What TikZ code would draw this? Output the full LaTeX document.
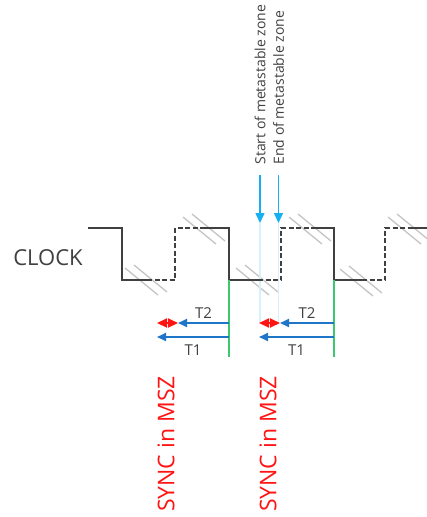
\documentclass[tikz,border=0pt]{standalone}
\usepackage{fontspec}
\setmainfont{Open Sans}
\usepackage{tikz}
\usetikzlibrary{arrows.meta,positioning}
\definecolor{clockgray}{RGB}{64,64,64}
\definecolor{textgray}{RGB}{64,64,64}
\definecolor{hatchgray}{RGB}{196,196,196}
\definecolor{tblue}{RGB}{31,118,200}
\definecolor{zonecyan}{RGB}{20,176,240}
\definecolor{zonepale}{RGB}{212,241,252}
\definecolor{syncgreen}{RGB}{60,200,110}
\definecolor{syncred}{RGB}{255,20,20}

\begin{document}
\begin{tikzpicture}[x=1pt,y=-1pt,
	clockline/.style={draw=clockgray,line width=1.8pt,line join=miter},
	clockjit/.style={clockline,dash pattern=on 5pt off 2.5pt},
	hatchline/.style={draw=hatchgray,line width=1.3pt},
	zonelbl/.style={rotate=90,anchor=west,text=textgray,font=\fontsize{14}{16}\selectfont},
	zonearrow/.style={draw=zonecyan,line width=1.5pt,-{Triangle[length=10pt,width=9pt]},shorten <=7pt},
	zoneline/.style={draw=zonepale,line width=1.2pt},
	syncline/.style={draw=syncgreen,line width=2pt},
	tarrow/.style={draw=tblue,line width=2pt,-{Triangle[length=9pt,width=8pt]}},
	jitarrow/.style={draw=syncred,line width=2pt,{Triangle[length=10pt,width=9pt]}-{Triangle[length=10pt,width=9pt]}},
	tlbl/.style={text=textgray,font=\fontsize{15}{17}\selectfont},
	synclbl/.style={rotate=90,text=syncred,font=\fontsize{23}{26}\selectfont}]
		\useasboundingbox (0,0) rectangle (427,517);

		\node[text=textgray,font=\fontsize{22}{26}\selectfont] (clock) at (48,258) {CLOCK};
		\node[zonelbl] (zstart) at (260,168) {Start of metastable zone};
		\node[zonelbl] (zend) at (278.5,168) {End of metastable zone};
		\node[synclbl] (sync1) at (166,444) {SYNC in MSZ};
		\node[synclbl] (sync2) at (268,444) {SYNC in MSZ};

		\coordinate (zs) at (260,223);
		\coordinate (zsb) at (260,323);
		\coordinate (ze) at (278.5,223);
		\coordinate (zeb) at (278.5,323);

		\coordinate (g1a) at (229,280);
		\coordinate (g1b) at (229,357);
		\coordinate (g1t2) at (229,323);
		\coordinate (g1t1) at (229,337);
		\coordinate (r1a) at (157,323);
		\coordinate (r1b) at (178,323);
		\coordinate (t1a) at (157,337);

		\coordinate (g2a) at (334,280);
		\coordinate (g2b) at (334,357);
		\coordinate (g2t2) at (334,323);
		\coordinate (g2t1) at (334,337);
		\coordinate (r2a) at (259,323);
		\coordinate (r2b) at (280,323);
		\coordinate (t2a) at (259,337);

		\foreach \x/\y in {147/280,205/229,258/280,311/229,362/281,410/229} {
			\draw[hatchline] (\x-22,\y-12) -- ++(33,27);
			\draw[hatchline] (\x-13,\y-15) -- ++(33,27);
		}

		\draw[zoneline] (zs) -- (zsb);
		\draw[zoneline] (ze) -- (zeb);

		\draw[clockline] (88,228) -- (122,228) -- (122,280) -- (147,280);
		\draw[clockjit] (147,280) -- (175,280) -- (175,228) -- (203,228);
		\draw[clockline] (203,228) -- (229,228) -- (229,280) -- (258,280);
		\draw[clockjit] (258,280) -- (281,280) -- (281,228) -- (311,228);
		\draw[clockline] (311,228) -- (334,228) -- (334,280) -- (362,280);
		\draw[clockjit] (362,280) -- (385,280) -- (385,228) -- (413,228);
		\draw[clockline] (413,228) -- (427,228);

		\draw[zonearrow] (zstart) -- (zs);
		\draw[zonearrow] (zend) -- (ze);

		\draw[syncline] (g1a) -- (g1b);
		\draw[syncline] (g2a) -- (g2b);

		\path
		(g1t2) edge[tarrow] node[tlbl,above] {T2} (r1b)
		(g1t1) edge[tarrow] node[tlbl,below=3pt] {T1} (t1a)
		(r1a) edge[jitarrow] (r1b)
		(g2t2) edge[tarrow] node[tlbl,above] {T2} (r2b)
		(g2t1) edge[tarrow] node[tlbl,below=3pt] {T1} (t2a)
		(r2a) edge[jitarrow] (r2b)
		;
	\end{tikzpicture}
\end{document}
